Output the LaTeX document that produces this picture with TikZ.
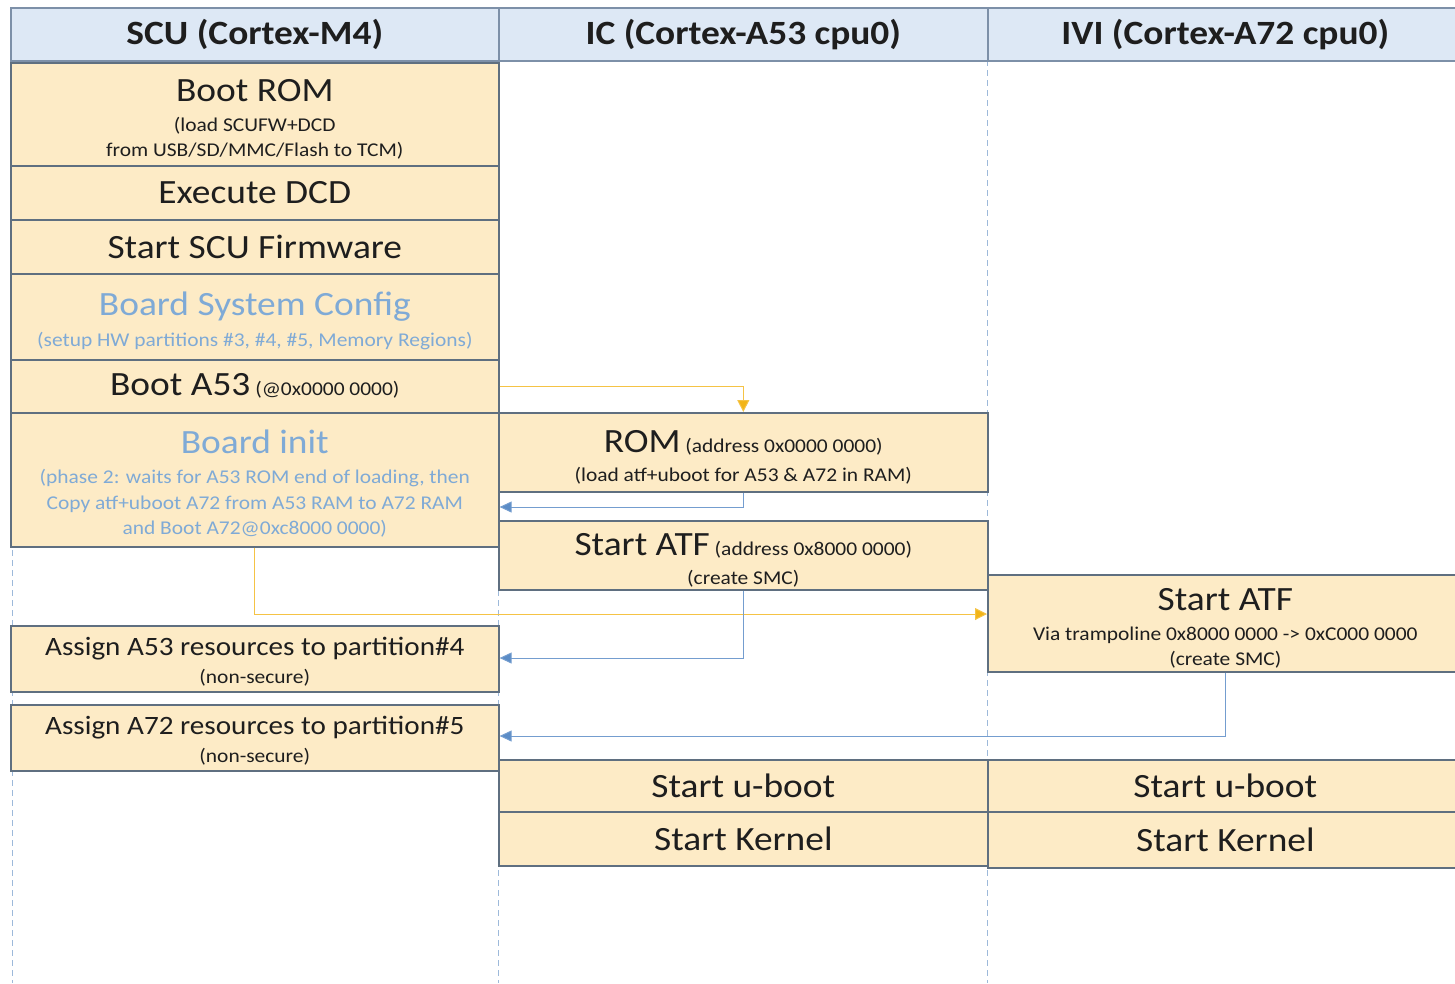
\documentclass[tikz,border=0pt]{standalone}
\usepackage{fontspec}
\setmainfont{Carlito}[FakeStretch=1.1]
\usetikzlibrary{arrows.meta}
\definecolor{boxfill}{HTML}{FDEBC6}
\definecolor{boxline}{HTML}{5F6F80}
\definecolor{hdrfill}{HTML}{DDE8F5}
\definecolor{hdrline}{HTML}{7D90A8}
\definecolor{lane}{HTML}{9DB9DA}
\definecolor{softblue}{HTML}{7FAAD6}
\definecolor{txt}{HTML}{1E1E1E}
\definecolor{orarrow}{HTML}{F2B416}
\definecolor{bluearrow}{HTML}{5B8CC6}
\tikzset{
  hdr/.style={draw=hdrline, line width=1.6pt, fill=hdrfill, anchor=north west, inner sep=0pt, align=center, font=\fontsize{34}{38}\selectfont\bfseries, text=txt},
  sbox/.style={draw=boxline, line width=1.6pt, fill=boxfill, anchor=north west, inner sep=0pt, align=center, text=txt, font=\fontsize{19.5}{25.5}\selectfont},
  big/.style={font=\fontsize{34}{38}\selectfont},
  lanel/.style={draw=lane, line width=0.8pt, dash pattern=on 6pt off 4pt},
  oarr/.style={draw=orarrow!80, line width=1pt, -{Triangle[length=12pt,width=12pt,fill=orarrow]}},
  barr/.style={draw=bluearrow!85, line width=1pt, -{Triangle[length=12pt,width=11pt,fill=bluearrow]}},
}
\newcommand{\bg}[1]{{\fontsize{34}{38}\selectfont\rule{0pt}{32pt}#1}}
\newcommand{\bgx}[1]{{\fontsize{34}{38}\selectfont #1}}
\newcommand{\md}[1]{{\fontsize{26.5}{30}\selectfont\rule{0pt}{24pt}#1}}
\begin{document}
\begin{tikzpicture}[x=1pt,y=-1pt]
\useasboundingbox (0,0) rectangle (1455,983);
% lanes
\coordinate (l1t) at (12,60); \coordinate (l1b) at (12,983);
\coordinate (l2t) at (498,60); \coordinate (l2b) at (498,983);
\coordinate (l3t) at (987,60); \coordinate (l3b) at (987,983);
\draw[lanel] (l1t) -- (l1b);
\draw[lanel] (l2t) -- (l2b);
\draw[lanel] (l3t) -- (l3b);
% headers
\node[hdr, minimum width=488pt, minimum height=53pt] (h1) at (10,7) {SCU (Cortex-M4)};
\node[hdr, minimum width=489pt, minimum height=53pt] (h2) at (498,7) {IC (Cortex-A53 cpu0)};
\node[hdr, minimum width=475pt, minimum height=53pt] (h3) at (987,7) {IVI (Cortex-A72 cpu0)};
% SCU column
\node[sbox, minimum width=488pt, minimum height=103pt] (bootrom) at (10,62)
  {\bg{Boot ROM}\\[4.5pt](load SCUFW+DCD\\from USB/SD/MMC/Flash to TCM)};
\node[sbox, minimum width=488pt, minimum height=54pt, big] (dcd) at (10,165) {Execute DCD};
\node[sbox, minimum width=488pt, minimum height=54pt, big] (scufw) at (10,219) {Start SCU Firmware};
\node[sbox, minimum width=488pt, minimum height=86pt, text=softblue] (bsc) at (10,273)
  {\bg{Board System Config}\\[5pt](setup HW partitions \#3, \#4, \#5, Memory Regions)};
\node[sbox, minimum width=488pt, minimum height=53pt] (boota53) at (10,359)
  {\bgx{Boot A53} (@0x0000 0000)};
\node[sbox, minimum width=488pt, minimum height=134pt, text=softblue] (binit) at (10,412)
  {\bg{Board init}\\[4.5pt](phase 2: waits for A53 ROM end of loading, then\\Copy atf+uboot A72 from A53 RAM to A72 RAM\\and Boot A72@0xc8000 0000)};
\node[sbox, minimum width=488pt, minimum height=66pt] (a53res) at (10,625)
  {\md{Assign A53 resources to partition\#4}\\[2.5pt](non-secure)};
\node[sbox, minimum width=488pt, minimum height=66pt] (a72res) at (10,704)
  {\md{Assign A72 resources to partition\#5}\\[2.5pt](non-secure)};
% IC column
\node[sbox, minimum width=489pt, minimum height=79pt] (rom) at (498,412)
  {\bg{ROM} (address 0x0000 0000)\\[3.5pt](load atf+uboot for A53 \& A72 in RAM)};
\node[sbox, minimum width=489pt, minimum height=69pt] (atf53) at (498,520)
  {\bg{Start ATF} (address 0x8000 0000)\\[3.5pt](create SMC)};
\node[sbox, minimum width=489pt, minimum height=52pt, big] (ub53) at (498,759) {Start u-boot};
\node[sbox, minimum width=489pt, minimum height=54pt, big] (k53) at (498,811) {Start Kernel};
% IVI column
\node[sbox, minimum width=475pt, minimum height=97pt] (atf72) at (987,574)
  {\bg{Start ATF}\\[4.5pt]Via trampoline 0x8000 0000 -> 0xC000 0000\\(create SMC)};
\node[sbox, minimum width=475pt, minimum height=52pt, big] (ub72) at (987,759) {Start u-boot};
\node[sbox, minimum width=475pt, minimum height=56pt, big] (k72) at (987,811) {Start Kernel};
% arrows
\draw[oarr] (boota53.east) -| (rom.north);
\draw[barr] (rom.south) |- (binit.east |- 0,507);
\draw[oarr] (binit.south) |- (atf72.west |- 0,614);
\draw[barr] (atf53.south) |- (a53res.east |- 0,658);
\draw[barr] (atf72.south) |- (a72res.east |- 0,736);
\end{tikzpicture}
\end{document}
